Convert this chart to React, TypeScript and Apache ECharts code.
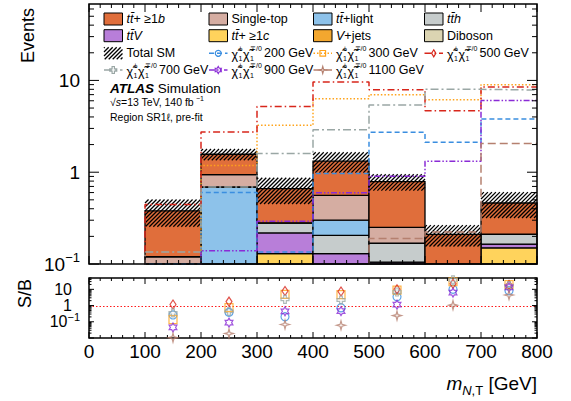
import React, { useEffect, useRef } from "react";
import * as echarts from "echarts";

const FONT = '"Liberation Sans", Arial, Helvetica, sans-serif';

// ---------------- data ----------------
const X_TICK_LABELS = [0, 100, 200, 300, 400, 500, 600, 700, 800];
const BIN_EDGES = [100, 200, 300, 400, 500, 600, 700, 800];
const BIN_CENTERS = [150, 250, 350, 450, 550, 650, 750];

// background yields per bin (stacked bottom -> top)
const DIBOSON = [0.01, 0.005, 0.005, 0.005, 0.005, 0.005, 0.005];
const V_JETS = [0.01, 0.01, 0.01, 0.01, 0.01, 0.01, 0.005];
const TT_C = [0.03, 0.015, 0.115, 0.005, 0.04, 0.01, 0.14];
const TT_V = [0.01, 0.01, 0.088, 0.11, 0.05, 0.01, 0.015];
const TT_H = [0.01, 0.01, 0.063, 0.075, 0.064, 0.01, 0.047];
const TT_LIGHT = [0.005, 0.64, 0, 0.095, 0, 0.005, 0];
const SINGLE_TOP = [0.045, 0.25, 0, 0.26, 0.081, 0.01, 0];
const TT_B = [0.26, 0.63, 0.38, 0.76, 0.54, 0.15, 0.25];
const TOTAL_SM_UNC = [0.125, 0.22, 0.21, 0.33, 0.16, 0.055, 0.145];

// signal yields per bin
const SIG_200 = [0.1, 0.6, 0.135, 0.97, 2.72, 2.12, 3.8];
const SIG_300 = [0.052, 1.18, 3.24, 6.3, 7.0, 6.17, 8.97];
const SIG_500 = [0.446, 2.75, 5.2, 9.6, 7.9, 4.68, 8.5];
const SIG_700 = [0.135, 0.69, 1.6, 2.9, 5.4, 8.0, 7.86];
const SIG_900 = [0.017, 0.139, 0.293, 0.597, 0.905, 1.32, 6.06];
const SIG_1100 = [0.004, 0.03, 0.045, 0.08, 0.19, 0.223, 2.05];

const S_OVER_B_REFERENCE = 1;

const Y_MAIN_MIN = 0.1;
const Y_MAIN_MAX = 68;
const Y_RATIO_MIN = 0.01;
const Y_RATIO_MAX = 50;
const X_MIN = 0;
const X_MAX = 800;

const BACKGROUNDS = [
  { key: "Diboson", values: DIBOSON, color: "#DBD4B2", label: "{n|Diboson}" },
  { key: "V+jets", values: V_JETS, color: "#F3A72F", label: "{i|V}{n|+jets}" },
  { key: "ttc", values: TT_C, color: "#FFD35C", label: "{i|tt\u0304}{n|+ \u22651}{i|c}" },
  { key: "ttV", values: TT_V, color: "#B87ED9", label: "{i|tt\u0304V}" },
  { key: "tth", values: TT_H, color: "#C6CCCC", label: "{i|tt\u0304h}" },
  { key: "ttlight", values: TT_LIGHT, color: "#8DC2EA", label: "{i|tt\u0304}{n|+light}" },
  { key: "Single-top", values: SINGLE_TOP, color: "#D5ADA2", label: "{n|Single-top}" },
  { key: "ttb", values: TT_B, color: "#E06E3B", label: "{i|tt\u0304}{n|+ \u22651}{i|b}" },
];

const SIGNALS = [
  { mass: "200", values: SIG_200, color: "#3A8EE0", dash: [5, 3], marker: "circle", size: 8 },
  { mass: "300", values: SIG_300, color: "#FFA31A", dash: [1.5, 2], marker: "square", size: 8 },
  { mass: "500", values: SIG_500, color: "#D8261B", dash: [7, 3, 1.5, 3], marker: "diamond", size: 9 },
  { mass: "700", values: SIG_700, color: "#9AA7A5", dash: [8, 3, 2, 3], marker: "cross", size: 8 },
  { mass: "900", values: SIG_900, color: "#8A2BD6", dash: [6, 2, 1.5, 2, 1.5, 2], marker: "star6", size: 9 },
  { mass: "1100", values: SIG_1100, color: "#B5806F", dash: [8, 4], marker: "star4", size: 9 },
];

// ---------------- helpers ----------------
function starPts(n: number, R: number, r: number): number[][] {
  const pts: number[][] = [];
  for (let k = 0; k < 2 * n; k++) {
    const a = -Math.PI / 2 + (k * Math.PI) / n;
    const rad = k % 2 === 0 ? R : r;
    pts.push([rad * Math.cos(a), rad * Math.sin(a)]);
  }
  return pts;
}
const W = 0.33;
const MARKER_SHAPES: Record<string, number[][]> = {
  square: [[-0.8, -0.8], [0.8, -0.8], [0.8, 0.8], [-0.8, 0.8]],
  diamond: [[0, -1], [0.6, 0], [0, 1], [-0.6, 0]],
  cross: [[-W, -1], [W, -1], [W, -W], [1, -W], [1, W], [W, W], [W, 1], [-W, 1], [-W, W], [-1, W], [-1, -W], [-W, -W]],
  star6: starPts(6, 1, 0.577),
  star4: starPts(4, 1, 0.3),
};
function pathSymbol(pts: number[][]) {
  return (
    "path://" +
    pts.map((p, i) => (i ? "L" : "M") + ((p[0] + 1) * 10).toFixed(2) + "," + ((p[1] + 1) * 10).toFixed(2)).join(" ") +
    " Z"
  );
}

function hatchLines(L: number, T: number, R: number, B: number, step: number) {
  const out: any[] = [];
  const start = Math.ceil((L + T) / step) * step;
  for (let c = start; c <= R + B; c += step) {
    const xa = Math.max(L, c - B);
    const xb = Math.min(R, c - T);
    if (xb - xa > 0.3) {
      out.push({
        type: "line",
        shape: { x1: xa, y1: c - xa, x2: xb, y2: c - xb },
        style: { stroke: "#000", lineWidth: 1.3 },
      });
    }
  }
  return out;
}

function isDecade(v: number) {
  const e = Math.log10(v);
  return Math.abs(e - Math.round(e)) < 1e-6 ? Math.round(e) : null;
}

function mainLogLabel(v: number) {
  const e = isDecade(v);
  if (e === 1) return "10";
  if (e === 0) return "1";
  if (e === -1) return "10{sup|\u22121}";
  return "";
}
function ratioLogLabel(v: number) {
  const e = isDecade(v);
  if (e === 1) return "{p|10}";
  if (e === 0) return "{p|1}";
  if (e === -1) return "10{sup|\u22121}";
  return "";
}

function frameRenderer(cfg: {
  ymin: number;
  ymax: number;
  xMaj: number;
  xMin: number;
  yMaj: number;
  yMin: number;
  refLine?: number;
}) {
  return (params: any, api: any) => {
    const cs = params.coordSys;
    const L = cs.x, R = cs.x + cs.width, T = cs.y, B = cs.y + cs.height;
    const ch: any[] = [];
    if (cfg.refLine !== undefined) {
      const py = Math.round(api.coord([X_MIN, cfg.refLine])[1]) + 0.5;
      ch.push({
        type: "line",
        shape: { x1: L, y1: py, x2: R, y2: py },
        style: { stroke: "#FF1A1A", lineWidth: 1, lineDash: [1.5, 2] },
        z2: -1,
      });
    }
    const st = { stroke: "#000", lineWidth: 1 };
    const ln = (x1: number, y1: number, x2: number, y2: number) =>
      ch.push({ type: "line", shape: { x1, y1, x2, y2 }, style: st });
    for (let xv = X_MIN; xv <= X_MAX; xv += 20) {
      const px = api.coord([xv, cfg.ymin])[0];
      const len = xv % 100 === 0 ? cfg.xMaj : cfg.xMin;
      ln(px, B, px, B - len);
      ln(px, T, px, T + len);
    }
    const e0 = Math.floor(Math.log10(cfg.ymin));
    const e1 = Math.ceil(Math.log10(cfg.ymax));
    for (let e = e0; e <= e1; e++) {
      for (let k = 1; k <= 9; k++) {
        const v = k * Math.pow(10, e);
        if (v < cfg.ymin * 0.999 || v > cfg.ymax * 1.001) continue;
        const py = api.coord([X_MIN, v])[1];
        const len = k === 1 ? cfg.yMaj : cfg.yMin;
        ln(L, py, L + len, py);
        ln(R, py, R - len, py);
      }
    }
    ch.push({
      type: "rect",
      shape: { x: L, y: T, width: R - L, height: B - T },
      style: { fill: "none", stroke: "#000", lineWidth: 1.5 },
    });
    return { type: "group", children: ch };
  };
}

function txt(text: string, x: number, y: number, size: number, extra: any = {}) {
  return {
    type: "text",
    silent: true,
    style: {
      text,
      x,
      y,
      fontSize: size,
      fontFamily: FONT,
      fill: "#000",
      align: "left",
      verticalAlign: "middle",
      textAlign: "left",
      textVerticalAlign: "middle",
      ...extra,
    },
  };
}

function markerGraphic(kind: string, cx: number, cy: number, s: number, color: string) {
  const style = { fill: "none", stroke: color, lineWidth: 1.2 };
  if (kind === "circle") return { type: "circle", shape: { cx, cy, r: s * 0.85 }, style };
  const pts = MARKER_SHAPES[kind].map((p) => [cx + p[0] * s, cy + p[1] * s]);
  return { type: "polygon", shape: { points: pts }, style };
}

function chiLabel(x: number, yc: number) {
  return [
    txt("\u03C7\u0303", x, yc + 1.5, 12.5),
    txt("\u00B1", x + 7, yc - 4.5, 7),
    txt("1", x + 7, yc + 5, 7),
    txt("\u03C7\u0303", x + 11.5, yc + 1.5, 12.5),
    txt("\u2213/0", x + 18.5, yc - 4.5, 7),
    txt("1", x + 18.5, yc + 5, 7),
  ];
}

function buildLegend() {
  const COLS = [104, 209, 313.5, 424.5];
  const ROWS = [19, 35.7, 53.3, 70];
  const BW = 18.5, BH = 12;
  const rich = {
    i: { fontStyle: "italic", fontSize: 12.5, fontFamily: FONT, fill: "#000" },
    n: { fontSize: 12.5, fontFamily: FONT, fill: "#000" },
  };
  const els: any[] = [];
  const legendBkg = BACKGROUNDS.slice().reverse();
  legendBkg.forEach((b, idx) => {
    const x = COLS[idx % 4];
    const y = ROWS[Math.floor(idx / 4)];
    els.push({
      type: "rect",
      silent: true,
      shape: { x, y: y - BH / 2, width: BW, height: BH },
      style: { fill: b.color, stroke: "#000", lineWidth: 1 },
    });
    els.push(txt(b.label, x + 22.5, y, 12.5, { rich }));
  });
  // Total SM
  {
    const x = COLS[0], y = ROWS[2];
    els.push({ type: "group", silent: true, children: hatchLines(x, y - BH / 2, x + BW, y + BH / 2, 4) });
    els.push(txt("Total SM", x + 22.5, y, 12.5));
  }
  SIGNALS.forEach((s, i) => {
    const slot = 9 + i;
    const x = COLS[slot % 4];
    const y = ROWS[Math.floor(slot / 4)];
    els.push({
      type: "line",
      silent: true,
      shape: { x1: x, y1: y, x2: x + BW, y2: y },
      style: { stroke: s.color, lineWidth: 1.5, lineDash: s.dash },
    });
    els.push(markerGraphic(s.marker, x + BW / 2, y, 3.5, s.color));
    chiLabel(x + 22.5, y).forEach((e) => els.push(e));
    els.push(txt(s.mass + " GeV", x + 55, y, 12.5));
  });
  return els;
}

function buildOption() {
  // stack
  const cum = BIN_CENTERS.map(() => 0);
  const bkgSeries = BACKGROUNDS.map((b) => {
    const data = b.values.map((v, i) => {
      const low = cum[i] > 0 ? cum[i] : Y_MAIN_MIN;
      cum[i] += v;
      return [BIN_EDGES[i], BIN_EDGES[i + 1], low, cum[i]];
    });
    return {
      type: "custom",
      name: b.key,
      xAxisIndex: 0,
      yAxisIndex: 0,
      silent: true,
      z: 2,
      encode: { x: [0, 1], y: [2, 3] },
      data,
      renderItem: (params: any, api: any) => {
        const x0 = api.value(0), x1 = api.value(1), lo = api.value(2), hi = api.value(3);
        if (hi <= Y_MAIN_MIN) return null;
        const p0 = api.coord([x0, hi]);
        const p1 = api.coord([x1, Math.max(lo, Y_MAIN_MIN)]);
        return {
          type: "rect",
          shape: { x: p0[0], y: p0[1], width: p1[0] - p0[0], height: p1[1] - p0[1] },
          style: { fill: b.color, stroke: "#000", lineWidth: 1.3 },
        };
      },
    };
  });
  const TOTAL = cum.slice();

  const hatchSeries = {
    type: "custom",
    name: "Total SM",
    xAxisIndex: 0,
    yAxisIndex: 0,
    silent: true,
    z: 3,
    encode: { x: [0, 1], y: [2, 3] },
    data: TOTAL.map((t, i) => [BIN_EDGES[i], BIN_EDGES[i + 1], Math.max(t - TOTAL_SM_UNC[i], Y_MAIN_MIN), t + TOTAL_SM_UNC[i]]),
    renderItem: (params: any, api: any) => {
      const pA = api.coord([api.value(0), api.value(3)]);
      const pB = api.coord([api.value(1), api.value(2)]);
      return { type: "group", children: hatchLines(pA[0], pA[1], pB[0], pB[1], 4) };
    },
  };

  const signalSeries = SIGNALS.map((s) => ({
    type: "line",
    name: s.mass,
    xAxisIndex: 0,
    yAxisIndex: 0,
    silent: true,
    z: 4,
    step: "end",
    symbol: "none",
    showSymbol: false,
    clip: true,
    lineStyle: { color: s.color, width: 1.5, type: s.dash },
    data: [[X_MIN, Y_MAIN_MIN / 10], ...s.values.map((v, i) => [BIN_EDGES[i], v]), [X_MAX, s.values[s.values.length - 1]]],
  }));

  const ratioSeries = SIGNALS.map((s) => {
    const isCircle = s.marker === "circle";
    return {
      type: "scatter",
      name: "S/B " + s.mass,
      xAxisIndex: 1,
      yAxisIndex: 1,
      silent: true,
      z: 4,
      symbol: isCircle ? "circle" : pathSymbol(MARKER_SHAPES[s.marker]),
      symbolSize: s.marker === "diamond" ? [6, 9] : s.size,
      symbolKeepAspect: s.marker !== "diamond",
      itemStyle: { color: "rgba(0,0,0,0)", borderColor: s.color, borderWidth: 1.2 },
      data: BIN_CENTERS.map((x, i) => [x, s.values[i] / TOTAL[i]]),
    };
  });

  const frameMain = {
    type: "custom",
    xAxisIndex: 0,
    yAxisIndex: 0,
    silent: true,
    z: 6,
    data: [[400, 1]],
    renderItem: frameRenderer({ ymin: Y_MAIN_MIN, ymax: Y_MAIN_MAX, xMaj: 8, xMin: 4, yMaj: 10, yMin: 5 }),
  };
  const frameRatio = {
    type: "custom",
    xAxisIndex: 1,
    yAxisIndex: 1,
    silent: true,
    z: 3,
    data: [[400, 1]],
    renderItem: frameRenderer({
      ymin: Y_RATIO_MIN,
      ymax: Y_RATIO_MAX,
      xMaj: 6,
      xMin: 3,
      yMaj: 5,
      yMin: 2.5,
      refLine: S_OVER_B_REFERENCE,
    }),
  };

  const axisCommon = {
    axisLine: { show: false },
    axisTick: { show: false },
    splitLine: { show: false },
  };

  const graphics: any[] = [
    ...buildLegend(),
    // ATLAS label
    txt("{b|ATLAS} {n|Simulation}", 110, 88, 13.5, {
      rich: {
        b: { fontWeight: "bold", fontStyle: "italic", fontSize: 13.5, fontFamily: FONT, fill: "#000" },
        n: { fontSize: 13.5, fontFamily: FONT, fill: "#000" },
      },
    }),
    txt("\u221A{i|s}=13 TeV, 140 fb", 110, 102, 10.5, {
      rich: { i: { fontStyle: "italic", fontSize: 10.5, fontFamily: FONT, fill: "#000" } },
    }),
    txt("\u22121", 196, 98.5, 7),
    txt("Region SR1\u2113, pre-fit", 110, 116.5, 10.5),
    // axis titles
    {
      type: "text",
      silent: true,
      x: 28,
      y: 8,
      rotation: Math.PI / 2,
      style: { text: "Events", x: 0, y: 0, fontSize: 18, fontFamily: FONT, fill: "#000", align: "right", verticalAlign: "middle", textAlign: "right", textVerticalAlign: "middle" },
    },
    {
      type: "text",
      silent: true,
      x: 25,
      y: 279,
      rotation: Math.PI / 2,
      style: { text: "S/B", x: 0, y: 0, fontSize: 18, fontFamily: FONT, fill: "#000", align: "right", verticalAlign: "middle", textAlign: "right", textVerticalAlign: "middle" },
    },
    txt("{m|m}{s|N}{t|,T}{n| [GeV]}", 537, 383, 19, {
      align: "right",
      textAlign: "right",
      rich: {
        m: { fontStyle: "italic", fontSize: 19, fontFamily: FONT, fill: "#000", lineHeight: 28 },
        s: { fontStyle: "italic", fontSize: 13, fontFamily: FONT, fill: "#000", verticalAlign: "bottom" },
        t: { fontSize: 13, fontFamily: FONT, fill: "#000", verticalAlign: "bottom" },
        n: { fontSize: 19, fontFamily: FONT, fill: "#000" },
      },
    }),
  ];

  return {
    animation: false,
    backgroundColor: "#ffffff",
    textStyle: { fontFamily: FONT },
    grid: [
      { left: 89, top: 4, width: 448, height: 260, show: false, containLabel: false, outerBoundsMode: "none" },
      { left: 89, top: 278, width: 448, height: 60, show: false, containLabel: false, outerBoundsMode: "none" },
    ],
    xAxis: [
      { type: "value", gridIndex: 0, min: X_MIN, max: X_MAX, interval: 100, ...axisCommon, axisLabel: { show: false } },
      {
        type: "value",
        gridIndex: 1,
        min: X_MIN,
        max: X_MAX,
        interval: 100,
        ...axisCommon,
        axisLabel: {
          show: true,
          fontSize: 19,
          color: "#000",
          fontFamily: FONT,
          margin: 4,
          formatter: (v: number) => (X_TICK_LABELS.indexOf(v) >= 0 ? String(v) : ""),
        },
      },
    ],
    yAxis: [
      {
        type: "log",
        logBase: 10,
        gridIndex: 0,
        min: Y_MAIN_MIN,
        max: Y_MAIN_MAX,
        ...axisCommon,
        axisLabel: {
          show: true,
          fontSize: 19,
          color: "#000",
          fontFamily: FONT,
          margin: 9,
          lineHeight: 26,
          formatter: mainLogLabel,
          rich: { sup: { fontSize: 13, fontFamily: FONT, color: "#000", verticalAlign: "top" } },
        },
      },
      {
        type: "log",
        logBase: 10,
        gridIndex: 1,
        min: Y_RATIO_MIN,
        max: Y_RATIO_MAX,
        ...axisCommon,
        axisLabel: {
          show: true,
          fontSize: 16,
          color: "#000",
          fontFamily: FONT,
          margin: 9,
          lineHeight: 20,
          formatter: ratioLogLabel,
          rich: {
            sup: { fontSize: 11, fontFamily: FONT, color: "#000", verticalAlign: "top" },
            p: { fontSize: 16, fontFamily: FONT, color: "#000", padding: [0, 8, 0, 0] },
          },
        },
      },
    ],
    series: [...bkgSeries, hatchSeries, ...signalSeries, frameMain, frameRatio, ...ratioSeries],
    graphic: { elements: graphics },
  };
}

export default function App() {
  const ref = useRef<HTMLDivElement>(null);
  useEffect(() => {
    document.body.style.margin = "0";
    const chart = echarts.init(ref.current as HTMLDivElement, null, { renderer: "svg", width: 571, height: 401 });
    chart.setOption(buildOption() as any);
    return () => chart.dispose();
  }, []);
  return <div ref={ref} style={{ width: 571, height: 401, position: "absolute", left: 0, top: 0 }} />;
}
